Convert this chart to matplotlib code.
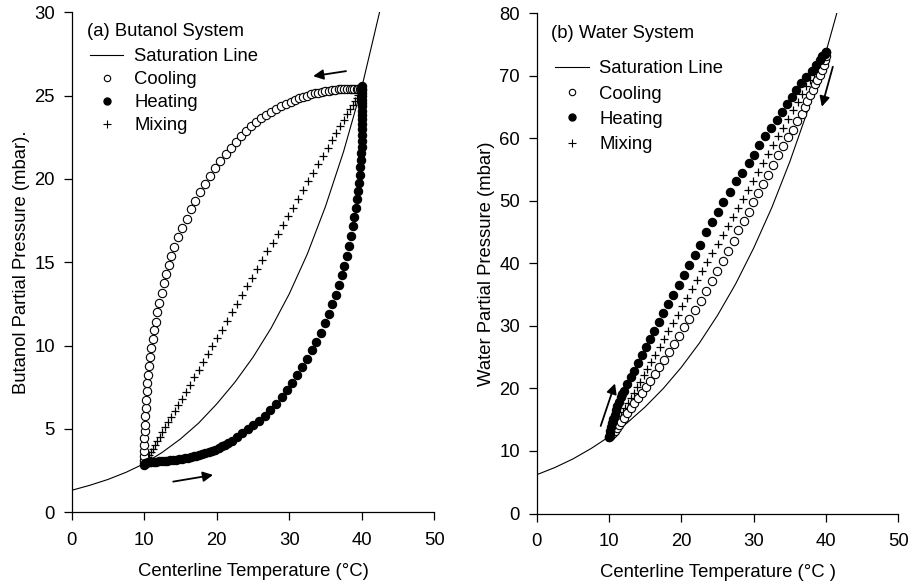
import matplotlib
matplotlib.use("Agg")
import matplotlib.pyplot as plt
from matplotlib.lines import Line2D

plt.rcParams['font.family'] = ['Liberation Sans', 'DejaVu Sans']

# ---------------- Butanol system ----------------
but_sat_T = [0, 2.5, 5, 7.5, 10, 12.5, 15, 17.5, 20, 22.5, 25, 27.5, 30, 32.5, 35, 37.5, 40, 42.5, 43.5]
but_sat_P = [1.32, 1.62, 1.97, 2.40, 2.92, 3.60, 4.40, 5.35, 6.50, 7.80, 9.30, 11.05, 13.1, 15.5, 18.35, 21.65, 25.48, 30.08, 32.2]

but_cool_x = [10.0, 10.0, 10.0, 10.0, 10.01, 10.03, 10.06, 10.1, 10.14, 10.21, 10.26, 10.34, 10.43, 10.55, 10.66,
              10.8, 11.0, 11.17, 11.35, 11.59, 11.81, 12.08, 12.41, 12.73, 13.0, 13.38, 13.7, 14.1, 14.70, 15.26,
              15.86, 16.46, 17.05, 17.70, 18.39, 19.08, 19.77, 20.50, 21.24, 21.93, 22.66, 23.35, 24.04, 24.73, 25.42,
              26.07, 26.8, 27.49, 28.18, 28.87, 29.56, 30.21, 30.84, 31.39, 31.9, 32.45, 33.0, 33.5, 34.0, 34.5,
              35.0, 35.45, 35.9, 36.35, 36.8, 37.2, 37.6, 38.0, 38.35, 38.7, 39.0, 39.3, 39.55, 39.75, 39.9, 40.0]
but_cool_y = [2.95, 3.15, 3.4, 3.7, 4.05, 4.45, 4.85, 5.25, 5.75, 6.25, 6.75, 7.25, 7.75, 8.25, 8.75,
              9.3, 9.85, 10.38, 10.94, 11.43, 12.03, 12.57, 13.14, 13.74, 14.3, 14.84, 15.38, 15.93, 16.50, 17.05,
              17.61, 18.18, 18.69, 19.19, 19.71, 20.17, 20.64, 21.07, 21.49, 21.85, 22.21, 22.57, 22.89, 23.17, 23.41,
              23.63, 23.85, 24.03, 24.19, 24.35, 24.49, 24.61, 24.73, 24.83, 24.92, 25.0, 25.07, 25.13, 25.18, 25.23,
              25.27, 25.3, 25.33, 25.35, 25.37, 25.38, 25.39, 25.4, 25.4, 25.4, 25.41, 25.41, 25.42, 25.42, 25.42, 25.42]

but_heat_x = [10.0, 10.05, 10.15, 10.3, 10.5, 10.75, 11.0, 11.3, 11.65, 12.0, 12.4, 12.8, 13.2, 13.6, 14.0,
              14.4, 14.8, 15.2, 15.6, 16.0, 16.4, 16.8, 17.2, 17.6, 18.0, 18.45, 18.9, 19.35, 19.8, 20.25,
              20.7, 21.15, 21.6, 22.07, 22.76, 23.53, 24.28, 25.05, 25.83, 26.62, 27.39, 28.18, 28.97, 29.70, 30.39,
              31.08, 31.77, 32.46, 33.10, 33.70, 34.34, 34.90, 35.45, 35.95, 36.41, 36.83, 37.24, 37.6, 37.93, 38.25,
              38.52, 38.75, 38.98, 39.17, 39.31, 39.49, 39.63, 39.72, 39.81, 39.90, 39.95,
              40.0, 40.0, 40.0, 40.0, 40.0, 40.0, 40.0, 40.0, 40.0, 40.0, 40.0, 40.0, 40.0, 40.0, 40.0]
but_heat_y = [2.85, 2.92, 2.95, 2.97, 2.99, 3.0, 3.01, 3.03, 3.04, 3.05, 3.07, 3.08, 3.1, 3.12, 3.14,
              3.16, 3.19, 3.22, 3.25, 3.28, 3.31, 3.35, 3.39, 3.44, 3.49, 3.55, 3.61, 3.68, 3.76, 3.85,
              3.95, 4.05, 4.15, 4.30, 4.50, 4.74, 4.98, 5.22, 5.50, 5.80, 6.14, 6.52, 6.92, 7.32, 7.76,
              8.24, 8.72, 9.21, 9.72, 10.23, 10.77, 11.34, 11.91, 12.48, 13.05, 13.65, 14.24, 14.79, 15.38, 15.98,
              16.6, 17.19, 17.73, 18.27, 18.79, 19.29, 19.77, 20.23, 20.70, 21.13, 21.53,
              21.93, 22.3, 22.65, 23.0, 23.3, 23.6, 23.85, 24.1, 24.35, 24.55, 24.75, 24.95, 25.15, 25.35, 25.55]

but_mix_x = [10.05, 10.15, 10.3, 10.5, 10.7, 10.95, 11.2, 11.5, 11.8, 12.15,
             12.5, 12.9, 13.3, 13.75, 14.2, 14.7, 15.2, 15.75, 16.3, 16.9,
             17.5, 18.1, 18.75, 19.4, 20.05, 20.7, 21.4, 22.1, 22.8, 23.5,
             24.2, 24.9, 25.6, 26.3, 27.0, 27.7, 28.4, 29.1, 29.8, 30.5,
             31.2, 31.9, 32.6, 33.3, 34.0, 34.65, 35.3, 35.9, 36.5, 37.05,
             37.55, 38.0, 38.4, 38.75, 39.05, 39.3, 39.5, 39.7, 39.85, 39.95]
but_mix_y = [2.96, 3.03, 3.14, 3.29, 3.44, 3.63, 3.82, 4.04, 4.27, 4.53,
             4.79, 5.09, 5.39, 5.73, 6.07, 6.44, 6.82, 7.23, 7.64, 8.09,
             8.54, 8.99, 9.48, 9.96, 10.45, 10.94, 11.46, 11.99, 12.51, 13.04,
             13.56, 14.08, 14.61, 15.13, 15.66, 16.18, 16.71, 17.23, 17.76, 18.28,
             18.81, 19.33, 19.85, 20.38, 20.90, 21.39, 21.88, 22.33, 22.78, 23.19,
             23.56, 23.90, 24.20, 24.46, 24.68, 24.87, 25.02, 25.17, 25.28, 25.36]

# ---------------- Water system ----------------
wat_sat_T = [0, 2.5, 5, 7.5, 10, 12.5, 15, 17.5, 20, 22.5, 25, 27.5, 30, 32.5, 35, 37.5, 40, 42.5]
wat_sat_P = [6.2, 7.35, 8.72, 10.38, 12.28, 14.49, 17.05, 19.99, 23.39, 27.27, 31.69, 36.71, 42.46, 48.92,
             56.28, 64.56, 73.84, 84.2]

wat_cool_x = [10.0, 10.1, 10.3, 10.55, 10.8, 11.1, 11.4, 11.7, 12.07, 12.5, 13.0, 13.46, 13.97, 14.5, 15.07,
              15.7, 16.3, 16.96, 17.65, 18.3, 19.0, 19.7, 20.4, 21.1, 21.9, 22.7, 23.4, 24.25, 24.98, 25.7,
              26.5, 27.3, 27.9, 28.6, 29.3, 29.96, 30.65, 31.3, 32.0, 32.7, 33.4, 34.1, 34.8, 35.4, 36.05,
              36.65, 37.1, 37.4, 37.8, 38.2, 38.5, 38.8, 39.1, 39.4, 39.66, 39.85, 39.95, 40.0]
wat_cool_y = [12.3, 12.4, 12.6, 12.9, 13.2, 13.6, 14.1, 14.6, 15.2, 16.0, 16.8, 17.6, 18.4, 19.3, 20.3,
              21.2, 22.3, 23.4, 24.5, 25.8, 27.1, 28.4, 29.8, 31.1, 32.5, 34.0, 35.6, 37.2, 38.8, 40.4,
              42.0, 43.6, 45.3, 46.8, 48.3, 49.8, 51.2, 52.7, 54.1, 55.7, 57.3, 58.8, 60.2, 61.4, 62.7,
              63.9, 65.0, 66.0, 66.9, 67.8, 68.7, 69.4, 70.1, 70.9, 71.7, 72.5, 73.2, 73.84]

wat_heat_x = [10.0, 10.1, 10.2, 10.32, 10.45, 10.6, 10.77, 10.95, 11.15, 11.37, 11.6, 11.83, 12.07, 12.53, 13.0,
              13.46, 13.97, 14.52, 15.07, 15.7, 16.27, 16.9, 17.5, 18.2, 18.9, 19.64, 20.37, 21.1, 21.9, 22.6,
              23.4, 24.2, 25.0, 25.8, 26.7, 27.6, 28.4, 29.3, 30.0, 30.8, 31.6, 32.35, 33.2, 33.9, 34.6,
              35.25, 35.9, 36.6, 37.3, 38.0, 38.6, 39.1, 39.5, 39.8, 40.0]
wat_heat_y = [12.3, 12.75, 13.25, 13.8, 14.4, 15.05, 15.75, 16.5, 17.2, 17.9, 18.6, 19.1, 19.64, 20.7, 21.78,
              22.84, 24.0, 25.35, 26.58, 27.86, 29.2, 30.6, 32.0, 33.5, 34.94, 36.54, 38.14, 39.74, 41.34, 42.9,
              45.0, 46.6, 48.3, 49.9, 51.5, 53.1, 54.5, 56.1, 57.4, 58.9, 60.3, 61.7, 62.9, 64.2, 65.5,
              66.6, 67.7, 68.8, 69.8, 70.8, 71.7, 72.5, 73.1, 73.55, 73.84]

wat_mix_x = [10.0, 10.1, 10.25, 10.4, 10.6, 10.8, 11.05, 11.3, 11.6, 11.9, 12.25, 12.6, 13.0, 13.4, 13.85,
             14.3, 14.8, 15.3, 15.85, 16.4, 17.0, 17.6, 18.2, 18.85, 19.5, 20.15, 20.8, 21.5, 22.2, 22.9,
             23.6, 24.3, 25.0, 25.7, 26.4, 27.1, 27.8, 28.5, 29.2, 29.9, 30.6, 31.3, 32.0, 32.7, 33.4,
             34.1, 34.8, 35.45, 36.1, 36.7, 37.3, 37.8, 38.3, 38.7, 39.05, 39.35, 39.6, 39.8, 39.95]
wat_mix_y = [12.28, 12.49, 12.79, 13.10, 13.51, 13.92, 14.43, 14.95, 15.56, 16.18, 16.90, 17.62, 18.44, 19.26, 20.18,
             21.10, 22.13, 23.16, 24.28, 25.41, 26.64, 27.88, 29.11, 30.44, 31.77, 33.11, 34.44, 35.88, 37.31, 38.75,
             40.19, 41.62, 43.06, 44.50, 45.93, 47.37, 48.81, 50.24, 51.68, 53.11, 54.55, 55.99, 57.42, 58.86, 60.30,
             61.73, 63.17, 64.50, 65.83, 67.06, 68.30, 69.32, 70.35, 71.17, 71.89, 72.51, 73.02, 73.43, 73.74]

legend_labels = ["Saturation Line", "Cooling", "Heating", "Mixing"]
x_ticks = [0, 10, 20, 30, 40, 50]

FS = 13.3
fig = plt.figure(figsize=(9.09, 5.86), dpi=100)
axL = fig.add_axes([0.0789, 0.1258, 0.3988, 0.8532])
axR = fig.add_axes([0.5904, 0.1237, 0.3979, 0.8536])

MS = 6.0
def draw(ax, sT, sP, cx, cy, hx, hy, mx, my):
    ax.plot(sT, sP, color='black', lw=0.8, zorder=2)
    ax.plot(mx, my, ls='none', marker='+', ms=5.2, mew=0.9, color='black', zorder=3)
    ax.plot(cx, cy, ls='none', marker='o', ms=MS, mfc='white', mec='black', mew=0.8, zorder=4)
    ax.plot(hx, hy, ls='none', marker='o', ms=MS, mfc='black', mec='black', mew=0.8, zorder=5)
    for s in ['top', 'right']:
        ax.spines[s].set_visible(False)
    for s in ['left', 'bottom']:
        ax.spines[s].set_linewidth(0.9)
    ax.tick_params(direction='out', length=6, width=0.9, labelsize=FS, colors='black')
    ax.tick_params(axis='x', pad=8)
    ax.tick_params(axis='y', pad=6)
    ax.set_xlim(0, 50)
    ax.set_xticks(x_ticks)

draw(axL, but_sat_T, but_sat_P, but_cool_x, but_cool_y, but_heat_x, but_heat_y, but_mix_x, but_mix_y)
axL.set_ylim(0, 30)
axL.set_yticks([0, 5, 10, 15, 20, 25, 30])
axL.set_xlabel("Centerline Temperature (°C)", fontsize=FS, labelpad=10)
axL.set_ylabel("Butanol Partial Pressure (mbar).", fontsize=FS, labelpad=3)

draw(axR, wat_sat_T, wat_sat_P, wat_cool_x, wat_cool_y, wat_heat_x, wat_heat_y, wat_mix_x, wat_mix_y)
axR.set_ylim(0, 80)
axR.set_yticks([0, 10, 20, 30, 40, 50, 60, 70, 80])
axR.set_xlabel("Centerline Temperature (°C )", fontsize=FS, labelpad=10)
axR.set_ylabel("Water Partial Pressure (mbar)", fontsize=FS, labelpad=3)

def handles():
    return [Line2D([], [], color='black', lw=0.8),
            Line2D([], [], ls='none', marker='o', ms=4.6, mfc='white', mec='black', mew=0.8),
            Line2D([], [], ls='none', marker='o', ms=5.0, mfc='black', mec='black'),
            Line2D([], [], ls='none', marker='+', ms=5.5, mew=0.8, color='black')]

W, H = 909.0, 586.0
fig.text(86.7 / W, 1 - 31.5 / H, "(a) Butanol System", fontsize=FS, va='center', ha='left')
axL.legend(handles(), legend_labels, loc='upper left', bbox_to_anchor=(90 / W, 1 - 48.3 / H),
           bbox_transform=fig.transFigure, frameon=False, fontsize=FS, handlelength=1.8,
           handletextpad=0.6, labelspacing=0.32, borderaxespad=0.0, borderpad=0.0)

fig.text(551 / W, 1 - 33 / H, "(b) Water System", fontsize=FS, va='center', ha='left')
axR.legend(handles(), legend_labels, loc='upper left', bbox_to_anchor=(555 / W, 1 - 60.3 / H),
           bbox_transform=fig.transFigure, frameon=False, fontsize=FS, handlelength=1.85,
           handletextpad=0.55, labelspacing=0.45, borderaxespad=0.0, borderpad=0.0)

arrow = dict(arrowstyle='-|>', color='black', lw=1.3, mutation_scale=15, shrinkA=0, shrinkB=0)
axL.annotate("", xy=(33.3, 26.17), xytext=(37.83, 26.47), arrowprops=arrow)
axL.annotate("", xy=(19.5, 2.24), xytext=(14.0, 1.84), arrowprops=arrow)
axR.annotate("", xy=(10.83, 20.8), xytext=(8.85, 14.0), arrowprops=arrow)
axR.annotate("", xy=(39.42, 65.06), xytext=(40.94, 71.45), arrowprops=arrow)

fig.savefig("out.png", dpi=100)
